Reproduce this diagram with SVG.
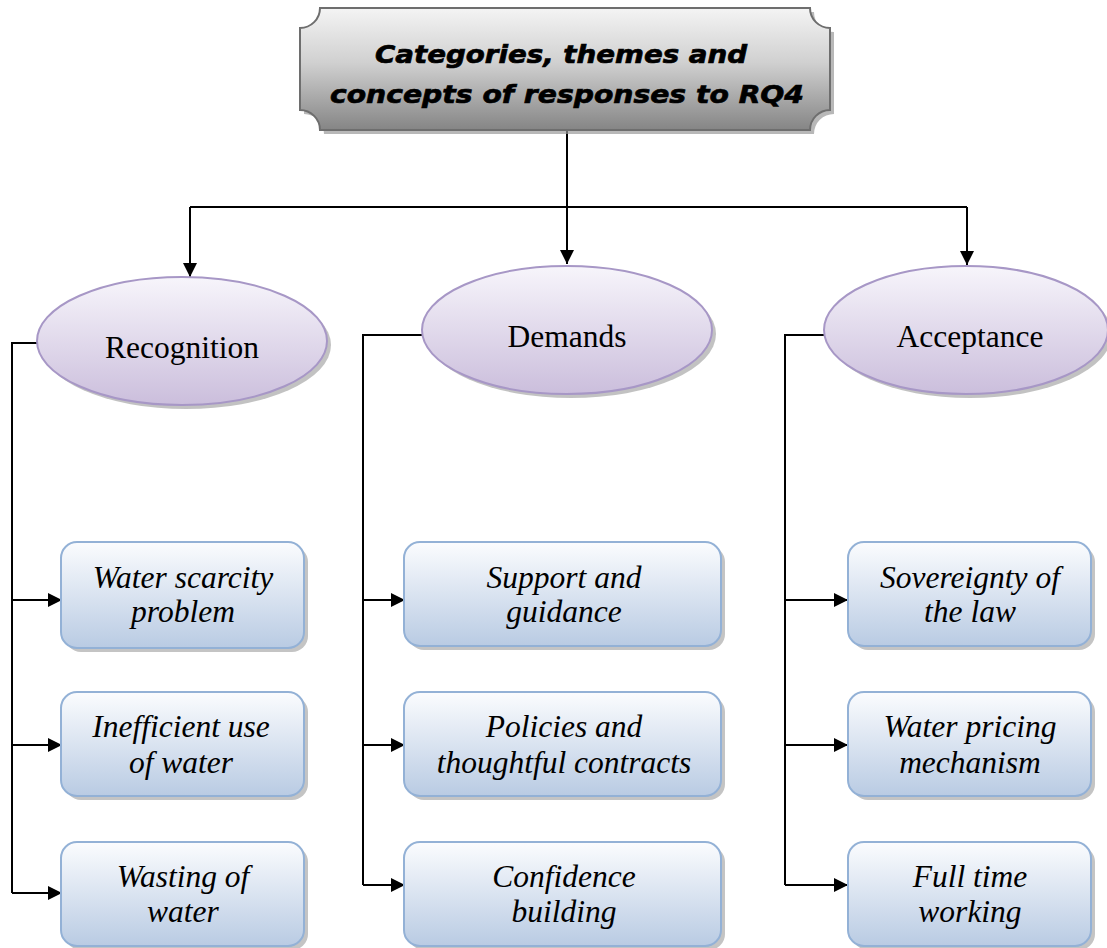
<svg xmlns="http://www.w3.org/2000/svg" width="1107" height="948" viewBox="0 0 1107 948">
<defs>
<linearGradient id="gTitle" x1="0" y1="0" x2="0" y2="1">
<stop offset="0" stop-color="#f4f4f4"/><stop offset="0.45" stop-color="#d0d0d0"/><stop offset="1" stop-color="#858585"/>
</linearGradient>
<linearGradient id="gEll" x1="0" y1="0" x2="0" y2="1">
<stop offset="0" stop-color="#f7f5fb"/><stop offset="1" stop-color="#cbbedc"/>
</linearGradient>
<linearGradient id="gBox" x1="0" y1="0" x2="0" y2="1">
<stop offset="0" stop-color="#fbfcfe"/><stop offset="1" stop-color="#b9cbe3"/>
</linearGradient>
<marker id="arr" viewBox="0 0 10 10" refX="10" refY="5" markerWidth="16" markerHeight="14" markerUnits="userSpaceOnUse" orient="auto">
<path d="M0,0 L10,5 L0,10 Z" fill="#000"/>
</marker>
</defs>
<style>
.ln{fill:none;stroke:#000;stroke-width:2}
.ell{fill:url(#gEll);stroke:#a797c6;stroke-width:2}
.esh{fill:#9a9a9a;opacity:0.6}
.box{fill:url(#gBox);stroke:#93b1d6;stroke-width:2}
.bsh{fill:#9c9c9c;opacity:0.6}
.et{font-family:"Liberation Serif",serif;font-size:31.5px;text-anchor:middle;fill:#000}
.bt{font-family:"Liberation Serif",serif;font-size:31.5px;font-style:italic;text-anchor:middle;fill:#000}
.tt{font-family:"DejaVu Sans",sans-serif;font-size:25px;font-weight:bold;font-style:italic;text-anchor:middle;fill:#000;stroke:#000;stroke-width:0.7}
</style>
<rect width="1107" height="948" fill="#fff"/>

<g id="connectors">
<path class="ln" d="M567,130 V264" marker-end="url(#arr)"/>
<path class="ln" d="M190,207 H967"/>
<path class="ln" d="M190,207 V277" marker-end="url(#arr)"/>
<path class="ln" d="M967,207 V265" marker-end="url(#arr)"/>
<path class="ln" d="M38,343 H12 V893"/>
<path class="ln" d="M12,600 H62" marker-end="url(#arr)"/>
<path class="ln" d="M12,745 H62" marker-end="url(#arr)"/>
<path class="ln" d="M12,893 H62" marker-end="url(#arr)"/>
<path class="ln" d="M423,335 H363 V885"/>
<path class="ln" d="M363,600 H405" marker-end="url(#arr)"/>
<path class="ln" d="M363,745 H405" marker-end="url(#arr)"/>
<path class="ln" d="M363,885 H405" marker-end="url(#arr)"/>
<path class="ln" d="M826,335 H785 V885"/>
<path class="ln" d="M785,600 H848" marker-end="url(#arr)"/>
<path class="ln" d="M785,745 H848" marker-end="url(#arr)"/>
<path class="ln" d="M785,885 H848" marker-end="url(#arr)"/>
</g>

<g id="title">
<path fill="#9a9a9a" opacity="0.7" d="M324,12 H814 A20 20 0 0 0 834,32 V114 A20 20 0 0 0 814,134 H324 A20 20 0 0 0 304,114 V32 A20 20 0 0 0 324,12 Z"/>
<path fill="url(#gTitle)" stroke="#6e6e6e" stroke-width="2" d="M320,8 H810 A20 20 0 0 0 830,28 V110 A20 20 0 0 0 810,130 H320 A20 20 0 0 0 300,110 V28 A20 20 0 0 0 320,8 Z"/>
<text class="tt" x="561" y="63" textLength="372" lengthAdjust="spacingAndGlyphs">Categories, themes and</text>
<text class="tt" x="567" y="103" textLength="474" lengthAdjust="spacingAndGlyphs">concepts of responses to RQ4</text>
</g>

<g id="recognition">
<ellipse class="esh" cx="186" cy="345" rx="145" ry="64"/>
<ellipse class="ell" cx="182" cy="341" rx="145" ry="64"/>
<text class="et" x="182" y="358">Recognition</text>
</g>
<g id="demands">
<ellipse class="esh" cx="571" cy="334" rx="145" ry="64"/>
<ellipse class="ell" cx="567" cy="330" rx="145" ry="64"/>
<text class="et" x="567" y="347">Demands</text>
</g>
<g id="acceptance">
<ellipse class="esh" cx="970" cy="334" rx="142" ry="64"/>
<ellipse class="ell" cx="966" cy="330" rx="142" ry="64"/>
<text class="et" x="970" y="347">Acceptance</text>
</g>

<g id="water-scarcity">
<rect class="bsh" x="65" y="546" width="243" height="106" rx="16"/>
<rect class="box" x="61" y="542" width="243" height="106" rx="16"/>
<text class="bt" x="183" y="588">Water scarcity</text>
<text class="bt" x="183" y="622">problem</text>
</g>
<g id="inefficient-use">
<rect class="bsh" x="65" y="696" width="243" height="104" rx="16"/>
<rect class="box" x="61" y="692" width="243" height="104" rx="16"/>
<text class="bt" x="181" y="737">Inefficient use</text>
<text class="bt" x="181" y="773">of water</text>
</g>
<g id="wasting">
<rect class="bsh" x="65" y="846" width="243" height="104" rx="16"/>
<rect class="box" x="61" y="842" width="243" height="104" rx="16"/>
<text class="bt" x="183" y="887">Wasting of</text>
<text class="bt" x="183" y="922">water</text>
</g>

<g id="support">
<rect class="bsh" x="408" y="546" width="317" height="104" rx="16"/>
<rect class="box" x="404" y="542" width="317" height="104" rx="16"/>
<text class="bt" x="564" y="588">Support and</text>
<text class="bt" x="564" y="622">guidance</text>
</g>
<g id="policies">
<rect class="bsh" x="408" y="696" width="317" height="104" rx="16"/>
<rect class="box" x="404" y="692" width="317" height="104" rx="16"/>
<text class="bt" x="564" y="737">Policies and</text>
<text class="bt" x="564" y="773">thoughtful contracts</text>
</g>
<g id="confidence">
<rect class="bsh" x="408" y="846" width="317" height="104" rx="16"/>
<rect class="box" x="404" y="842" width="317" height="104" rx="16"/>
<text class="bt" x="564" y="887">Confidence</text>
<text class="bt" x="564" y="922">building</text>
</g>

<g id="sovereignty">
<rect class="bsh" x="852" y="546" width="243" height="104" rx="16"/>
<rect class="box" x="848" y="542" width="243" height="104" rx="16"/>
<text class="bt" x="970" y="588">Sovereignty of</text>
<text class="bt" x="970" y="622">the law</text>
</g>
<g id="pricing">
<rect class="bsh" x="852" y="696" width="243" height="104" rx="16"/>
<rect class="box" x="848" y="692" width="243" height="104" rx="16"/>
<text class="bt" x="970" y="737">Water pricing</text>
<text class="bt" x="970" y="773">mechanism</text>
</g>
<g id="fulltime">
<rect class="bsh" x="852" y="846" width="243" height="104" rx="16"/>
<rect class="box" x="848" y="842" width="243" height="104" rx="16"/>
<text class="bt" x="970" y="887">Full time</text>
<text class="bt" x="970" y="922">working</text>
</g>
</svg>
